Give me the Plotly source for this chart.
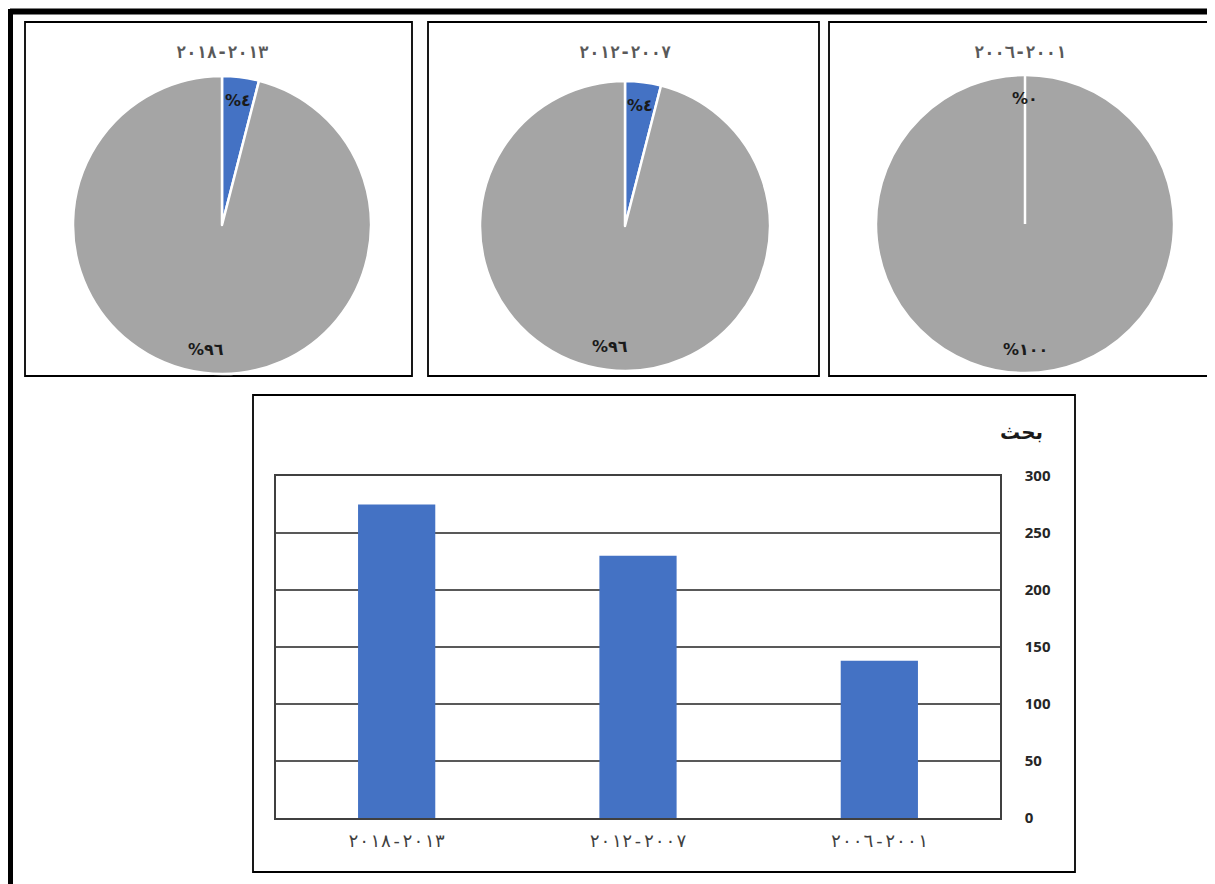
import math
import plotly.graph_objects as go

# ---- data ----
periods = ["٢٠١٣-٢٠١٨", "٢٠٠٧-٢٠١٢", "٢٠٠١-٢٠٠٦"]
research_counts = [275, 230, 138]
pie_labels = ["أ", "ب"]
pie_values = [[4, 96], [4, 96], [0, 100]]
pie_texts = [["%٤", "%٩٦"], ["%٤", "%٩٦"], ["%٠", "%١٠٠"]]
y_ticks = [0, 50, 100, 150, 200, 250, 300]
y_title = "بحث"

W, H = 1215, 884
OFF = 8  # page body margin compensation
def px(x): return (x - OFF) / W
def py(y): return 1 - (y - OFF) / H

BLUE = "#4472C4"
GRAY = "#A5A5A5"
PIE_FONT = dict(family="DejaVu Sans", size=16, color="#1a1a1a")

fig = go.Figure()
shapes = []
annotations = []

# pie geometry (pixels): center x, center y, radius
pie_geo = [(222, 225, 149), (625, 226, 145), (1025, 224, 149)]
for i, (cx, cy, r) in enumerate(pie_geo):
    vals = pie_values[i]
    fig.add_trace(go.Pie(
        labels=pie_labels, values=vals, textinfo="none",
        sort=False, direction="clockwise", rotation=0,
        marker=dict(colors=[BLUE, GRAY], line=dict(color="white", width=2.5)),
        showlegend=False, hoverinfo="skip",
        domain=dict(x=[px(cx - r), px(cx + r)], y=[py(cy + r), py(cy - r)]),
    ))
    # labels placed near the rim at each slice's mid angle (computed from the values)
    total = sum(vals)
    cum = 0
    for v, t in zip(vals, pie_texts[i]):
        a0 = cum / total * 2 * math.pi
        a1 = (cum + v) / total * 2 * math.pi
        cum += v
        if v == 0:
            # plotly drops zero-valued slices: draw that slice's edge
            shapes.append(dict(type="line", xref="paper", yref="paper",
                               x0=px(cx), y0=py(cy), x1=px(cx + r * math.sin(a0)), y1=py(cy - r * math.cos(a0)),
                               line=dict(color="white", width=2.5)))
        am = (a0 + a1) / 2
        rr = 0.84 * r
        annotations.append(dict(text="<b>" + t + "</b>", xref="paper", yref="paper", showarrow=False,
                                x=px(cx + rr * math.sin(am)), y=py(cy - rr * math.cos(am)),
                                xanchor="center", yanchor="middle", font=PIE_FONT))

fig.add_trace(go.Bar(
    x=periods, y=research_counts, marker=dict(color=BLUE, line=dict(width=0)),
    width=0.32, showlegend=False, hoverinfo="skip",
))

# outer frame (top and left edges)
shapes.append(dict(type="line", xref="paper", yref="paper", x0=px(10), x1=px(1230), y0=py(11.5), y1=py(11.5), line=dict(color="black", width=6)))
shapes.append(dict(type="line", xref="paper", yref="paper", x0=px(10), x1=px(10), y0=py(9), y1=py(900), line=dict(color="black", width=6)))
# panel boxes
for (x0, y0, x1, y1) in [(25, 22, 412, 376), (428, 22, 819, 376), (829, 22, 1210, 376), (253, 395, 1075, 872)]:
    shapes.append(dict(type="rect", xref="paper", yref="paper", x0=px(x0), x1=px(x1), y0=py(y0), y1=py(y1),
                       line=dict(color="black", width=1.8), fillcolor="rgba(0,0,0,0)", layer="below"))

for i, cx in enumerate([222, 625, 1020]):
    annotations.append(dict(text="<b>" + periods[i] + "</b>", xref="paper", yref="paper", x=px(cx), y=py(52),
                            xanchor="center", yanchor="middle", showarrow=False,
                            font=dict(family="DejaVu Sans Mono", size=17, color="#595959")))
annotations.append(dict(text="<b>" + y_title + "</b>", xref="paper", yref="paper", x=px(1021), y=py(432),
                        xanchor="center", yanchor="middle", showarrow=False,
                        font=dict(family="DejaVu Sans", size=20, color="#1a1a1a")))

fig.update_layout(
    width=W, height=H, margin=dict(l=0, r=0, t=0, b=0, autoexpand=False),
    paper_bgcolor="white", plot_bgcolor="white",
    shapes=shapes, annotations=annotations,
    xaxis=dict(domain=[px(276), px(1000)], showgrid=False, showline=True, mirror=True,
               linecolor="#404040", linewidth=1.5, ticks="", automargin=False,
               tickfont=dict(family="DejaVu Sans Mono", size=18, color="#404040"),
               ticklabelstandoff=6),
    yaxis=dict(domain=[py(818), py(476)], side="right", range=[0, 300], tickvals=y_ticks,
               showgrid=True, gridcolor="#595959", gridwidth=1.5, showline=True, mirror=True,
               linecolor="#404040", linewidth=1.5, zeroline=False, ticks="", automargin=False,
               tickfont=dict(family="Open Sans", size=15, color="#262626", weight="bold"),
               ticklabelstandoff=20),
)

fig.write_html("out.html")
